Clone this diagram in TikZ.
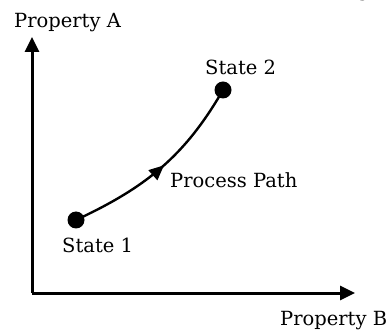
\documentclass[tikz,border=0pt]{standalone}
\usepackage{fontspec}
\setmainfont{DejaVu Serif}
\usepackage{tikz}
\usetikzlibrary{
  calc,                  % Coordinate math
  decorations.markings,  % Arrow along the process path
  arrows.meta
}

\tikzset{
  axis/.style={line width=3pt, -{Triangle[length=15pt, width=14pt]}},
  statedot/.style={circle, fill=black, inner sep=0pt, minimum size=17pt},
  lbl/.style={anchor=base west, inner sep=0pt, font=\fontsize{19.5}{23}\selectfont}
}

\begin{document}
\begin{tikzpicture}[x=1pt, y=1pt]
    \useasboundingbox (0,0) rectangle (390,329);

            % Cut-off text above the frame
            \node[lbl, anchor=base] (cut) at (363,332) {g};

            % Axes
            \coordinate (origin) at (32,36);
            \coordinate (ytop) at (32,292);
            \coordinate (xend) at (355,36);
            \draw[axis] (origin) -- (ytop);
            \draw[axis] (origin) -- (xend);

            % Axis labels
            \node[lbl] (propA) at (14,301) {Property A};
            \node[lbl] (propB) at (280,4) {Property B};

            % States
            \node[statedot] (s1) at (76,109) {};
            \node[statedot] (s2) at (223,239) {};
            \node[lbl] (s1lbl) at (62,77) {State 1};
            \node[lbl] (s2lbl) at (205,254) {State 2};

            % Process path with arrow
            \draw[line width=2.4pt, postaction={decorate},
                  decoration={markings,
                    mark=at position 0.52 with {\arrow{Triangle[length=15pt, width=13pt]}}}]
                (s1.center) to[out=25, in=240] (s2.center);
            \node[lbl] (pathlbl) at (170,141) {Process Path};
\end{tikzpicture}
\end{document}
